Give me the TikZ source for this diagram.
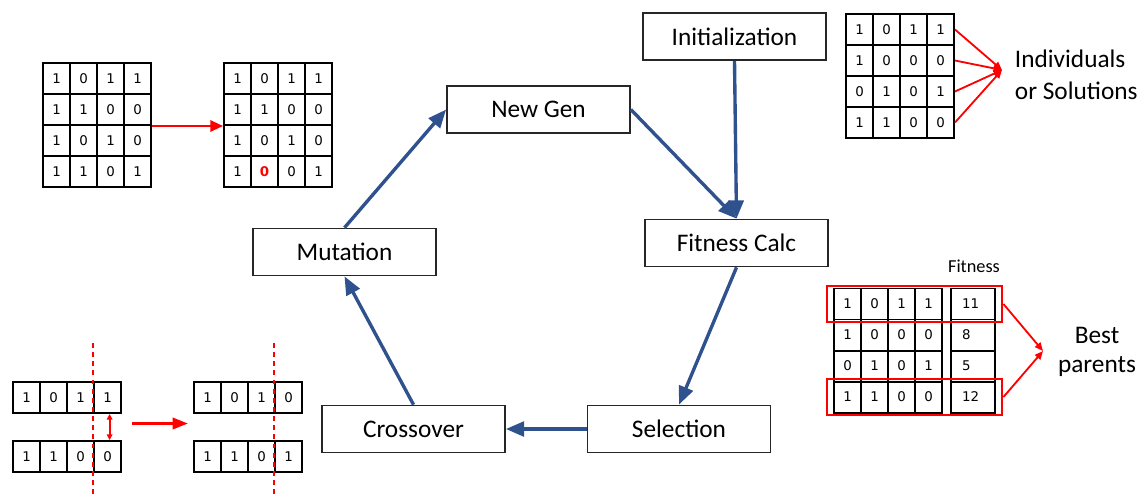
\documentclass[tikz,border=0pt]{standalone}
\usepackage{fontspec}
\setmainfont{Carlito}
\newfontfamily\bitfont{DejaVu Sans}
\usepackage{xcolor}
\usepackage{tikz}
\usetikzlibrary{arrows.meta,positioning,fit}
\definecolor{flowblue}{RGB}{47,82,143}
\newcommand{\flipbit}{\textcolor{red}{\bfseries 0}}

\begin{document}
\begin{tikzpicture}[x=0.025cm,y=-0.025cm,
  stage/.style={draw=black!85,line width=1.2pt,minimum width=4.575cm,
    minimum height=1.175cm,font=\fontsize{18}{22}\selectfont},
  cell/.style={draw,line width=1.4pt,minimum width=0.675cm,minimum height=0.775cm,
    inner sep=0pt,font=\bitfont\fontsize{9.5}{11}\selectfont},
  fitval/.style={cell,minimum width=1.1cm,text width=0.55cm,align=left},
  flow/.style={flowblue,line width=2.4pt,-{Triangle[length=13pt,width=10.5pt]}},
  redline/.style={red,line width=1.3pt,-{Triangle[length=6pt,width=5pt]}},
  cutline/.style={draw=red,line width=1.3pt,dash pattern=on 3.5pt off 3pt},
  pick/.style={draw=red,line width=1.6pt,inner xsep=4.5pt,inner ysep=1.2pt}]
\useasboundingbox (0,0) rectangle (1141,496);

% GA cycle
\node[stage] (init)   at (734.5,36.5) {Initialization};
\node[stage] (newgen) at (538.5,109.5) {New Gen};
\node[stage] (fitc)   at (736.5,243) {Fitness Calc};
\node[stage] (mut)    at (344.5,252) {Mutation};
\node[stage] (cross)  at (413.5,429) {Crossover};
\node[stage] (sel)    at (679,429) {Selection};
\draw[flow] (init.south) -- (fitc.north);
\draw[flow] (newgen.east) -- (fitc.north);
\draw[flow] (fitc.south) -- (sel.north);
\draw[flow] (sel.west) -- (cross.east);
\draw[flow] (cross.north) -- (mut.south);
\draw[flow] (mut.north) -- (newgen.west);

% population
\foreach \row [count=\rw] in {{1,0,1,1},{1,0,0,0},{0,1,0,1},{1,1,0,0}}
  \foreach \b [count=\cl] in \row
    \node[cell] (pop-\rw-\cl) at ({846+27*(\cl-0.5)},{14+31*(\rw-0.5)}) {\b};
\coordinate (indivpt) at (1002,70);
\foreach \rw in {1,...,4}
  \draw[redline] (pop-\rw-4.east) -- (indivpt);
\node[font=\fontsize{18}{22.5}\selectfont,align=left,anchor=west] (indiv)
  at (1010,75) {Individuals\\or Solutions};

% fitness table
\node[font=\fontsize{13}{15}\selectfont] (fitlbl) at (974,266) {Fitness};
\foreach \row [count=\rw] in {{1,0,1,1},{1,0,0,0},{0,1,0,1},{1,1,0,0}}
  \foreach \b [count=\cl] in \row
    \node[cell] (fa-\rw-\cl) at ({834+27*(\cl-0.5)},{288.5+31*(\rw-0.5)}) {\b};
\foreach \v [count=\rw] in {11,8,5,12}
  \node[fitval] (fv-\rw) at (973,{288.5+31*(\rw-0.5)}) {\v};
\node[pick,fit=(fa-1-1)(fv-1)] (best1) {};
\node[pick,fit=(fa-4-1)(fv-4)] (best2) {};
\coordinate (bestpt) at (1043,351);
\draw[redline] (best1.east) -- (bestpt);
\draw[redline] (best2.east) -- (bestpt);
\node[font=\fontsize{18}{20.5}\selectfont,align=center] (bestlbl)
  at (1097,352) {Best\\parents};

% mutation example
\foreach \row [count=\rw] in {{1,0,1,1},{1,1,0,0},{1,0,1,0},{1,1,0,1}}
  \foreach \b [count=\cl] in \row
    \node[cell] (ma-\rw-\cl) at ({43+27*(\cl-0.5)},{63+31*(\rw-0.5)}) {\b};
\foreach \row [count=\rw] in {{1,0,1,1},{1,1,0,0},{1,0,1,0},{1,\flipbit,0,1}}
  \foreach \b [count=\cl] in \row
    \node[cell] (mb-\rw-\cl) at ({224+27*(\cl-0.5)},{63+31*(\rw-0.5)}) {\b};
\draw[red,line width=1.6pt,-{Triangle[length=9pt,width=8pt]}]
  (ma-2-4.south east) -- (mb-2-1.south west);

% crossover example
\foreach \b [count=\cl] in {1,0,1,1}
  \node[cell] (xa-\cl) at ({13+27*(\cl-0.5)},397.5) {\b};
\foreach \b [count=\cl] in {1,1,0,0}
  \node[cell] (xb-\cl) at ({13+27*(\cl-0.5)},456.5) {\b};
\foreach \b [count=\cl] in {1,0,1,0}
  \node[cell] (ya-\cl) at ({194+27*(\cl-0.5)},397.5) {\b};
\foreach \b [count=\cl] in {1,1,0,1}
  \node[cell] (yb-\cl) at ({194+27*(\cl-0.5)},456.5) {\b};
\draw[cutline] (274,343) -- (274,496);
\draw[cutline] (93,343) -- (93,496);
\draw[red,line width=1.3pt,{Triangle[length=4pt,width=4pt]}-{Triangle[length=4pt,width=4pt]}]
  ([xshift=1.5pt]xa-4.south) -- ([xshift=1.5pt]xb-4.north);
\coordinate (xgo) at (132,423.5);
\coordinate (xdone) at (188,423.5);
\draw[red,line width=2.2pt,-{Triangle[length=11pt,width=8pt]}] (xgo) -- (xdone);
\end{tikzpicture}
\end{document}
